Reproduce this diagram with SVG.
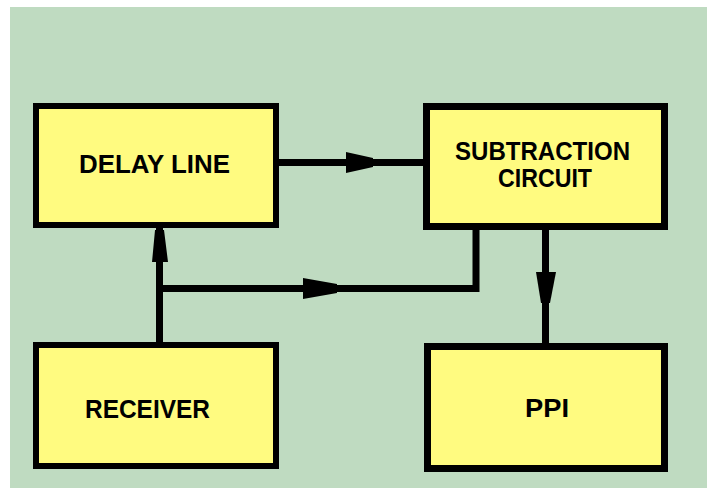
<svg xmlns="http://www.w3.org/2000/svg" width="707" height="488" viewBox="0 0 707 488">
  <style>
    .box { fill: #FFFB80; stroke: #000; stroke-width: 6; }
    .lbl { font-family: "Liberation Sans", Arial, sans-serif; font-weight: bold; font-size: 25px; fill: #000; text-anchor: middle; }
    .wire { fill: none; stroke: #000; stroke-width: 7; stroke-linejoin: miter; }
    .head { fill: #000; }
  </style>
  <rect x="0" y="0" width="707" height="488" fill="#FFFFFF"/>
  <rect x="10" y="7" width="697" height="481" fill="#BFDBC1"/>

  <g id="connectors">
    <line class="wire" x1="279" y1="162.5" x2="424" y2="162.5"/>
    <polygon class="head" points="346,152 373,158 373,167 346,173"/>
    <line class="wire" x1="159.5" y1="343" x2="159.5" y2="227"/>
    <polygon class="head" points="152,262 155,230 164,230 168,262"/>
    <polyline class="wire" points="159.5,288.5 476,288.5 476,228"/>
    <polygon class="head" points="303,278 337,284 337,293 303,299"/>
    <line class="wire" x1="545.5" y1="228" x2="545.5" y2="344"/>
    <polygon class="head" points="536,272 556,272 550,303 541,303"/>
  </g>

  <g id="delay-line">
    <rect class="box" x="36" y="106" width="240" height="119"/>
    <text class="lbl" x="154.5" y="173" textLength="151" lengthAdjust="spacingAndGlyphs">DELAY LINE</text>
  </g>
  <g id="subtraction-circuit">
    <rect class="box" x="426.5" y="106.5" width="238" height="120" style="stroke-width:7"/>
    <text class="lbl" x="542.5" y="160" textLength="175" lengthAdjust="spacingAndGlyphs">SUBTRACTION</text>
    <text class="lbl" x="545" y="187" textLength="94" lengthAdjust="spacingAndGlyphs">CIRCUIT</text>
  </g>
  <g id="receiver">
    <rect class="box" x="36" y="345" width="240" height="121"/>
    <text class="lbl" x="147.5" y="418" textLength="125" lengthAdjust="spacingAndGlyphs">RECEIVER</text>
  </g>
  <g id="ppi">
    <rect class="box" x="427.5" y="346.5" width="237" height="122" style="stroke-width:7"/>
    <text class="lbl" x="547" y="417" textLength="44" lengthAdjust="spacingAndGlyphs">PPI</text>
  </g>
</svg>
